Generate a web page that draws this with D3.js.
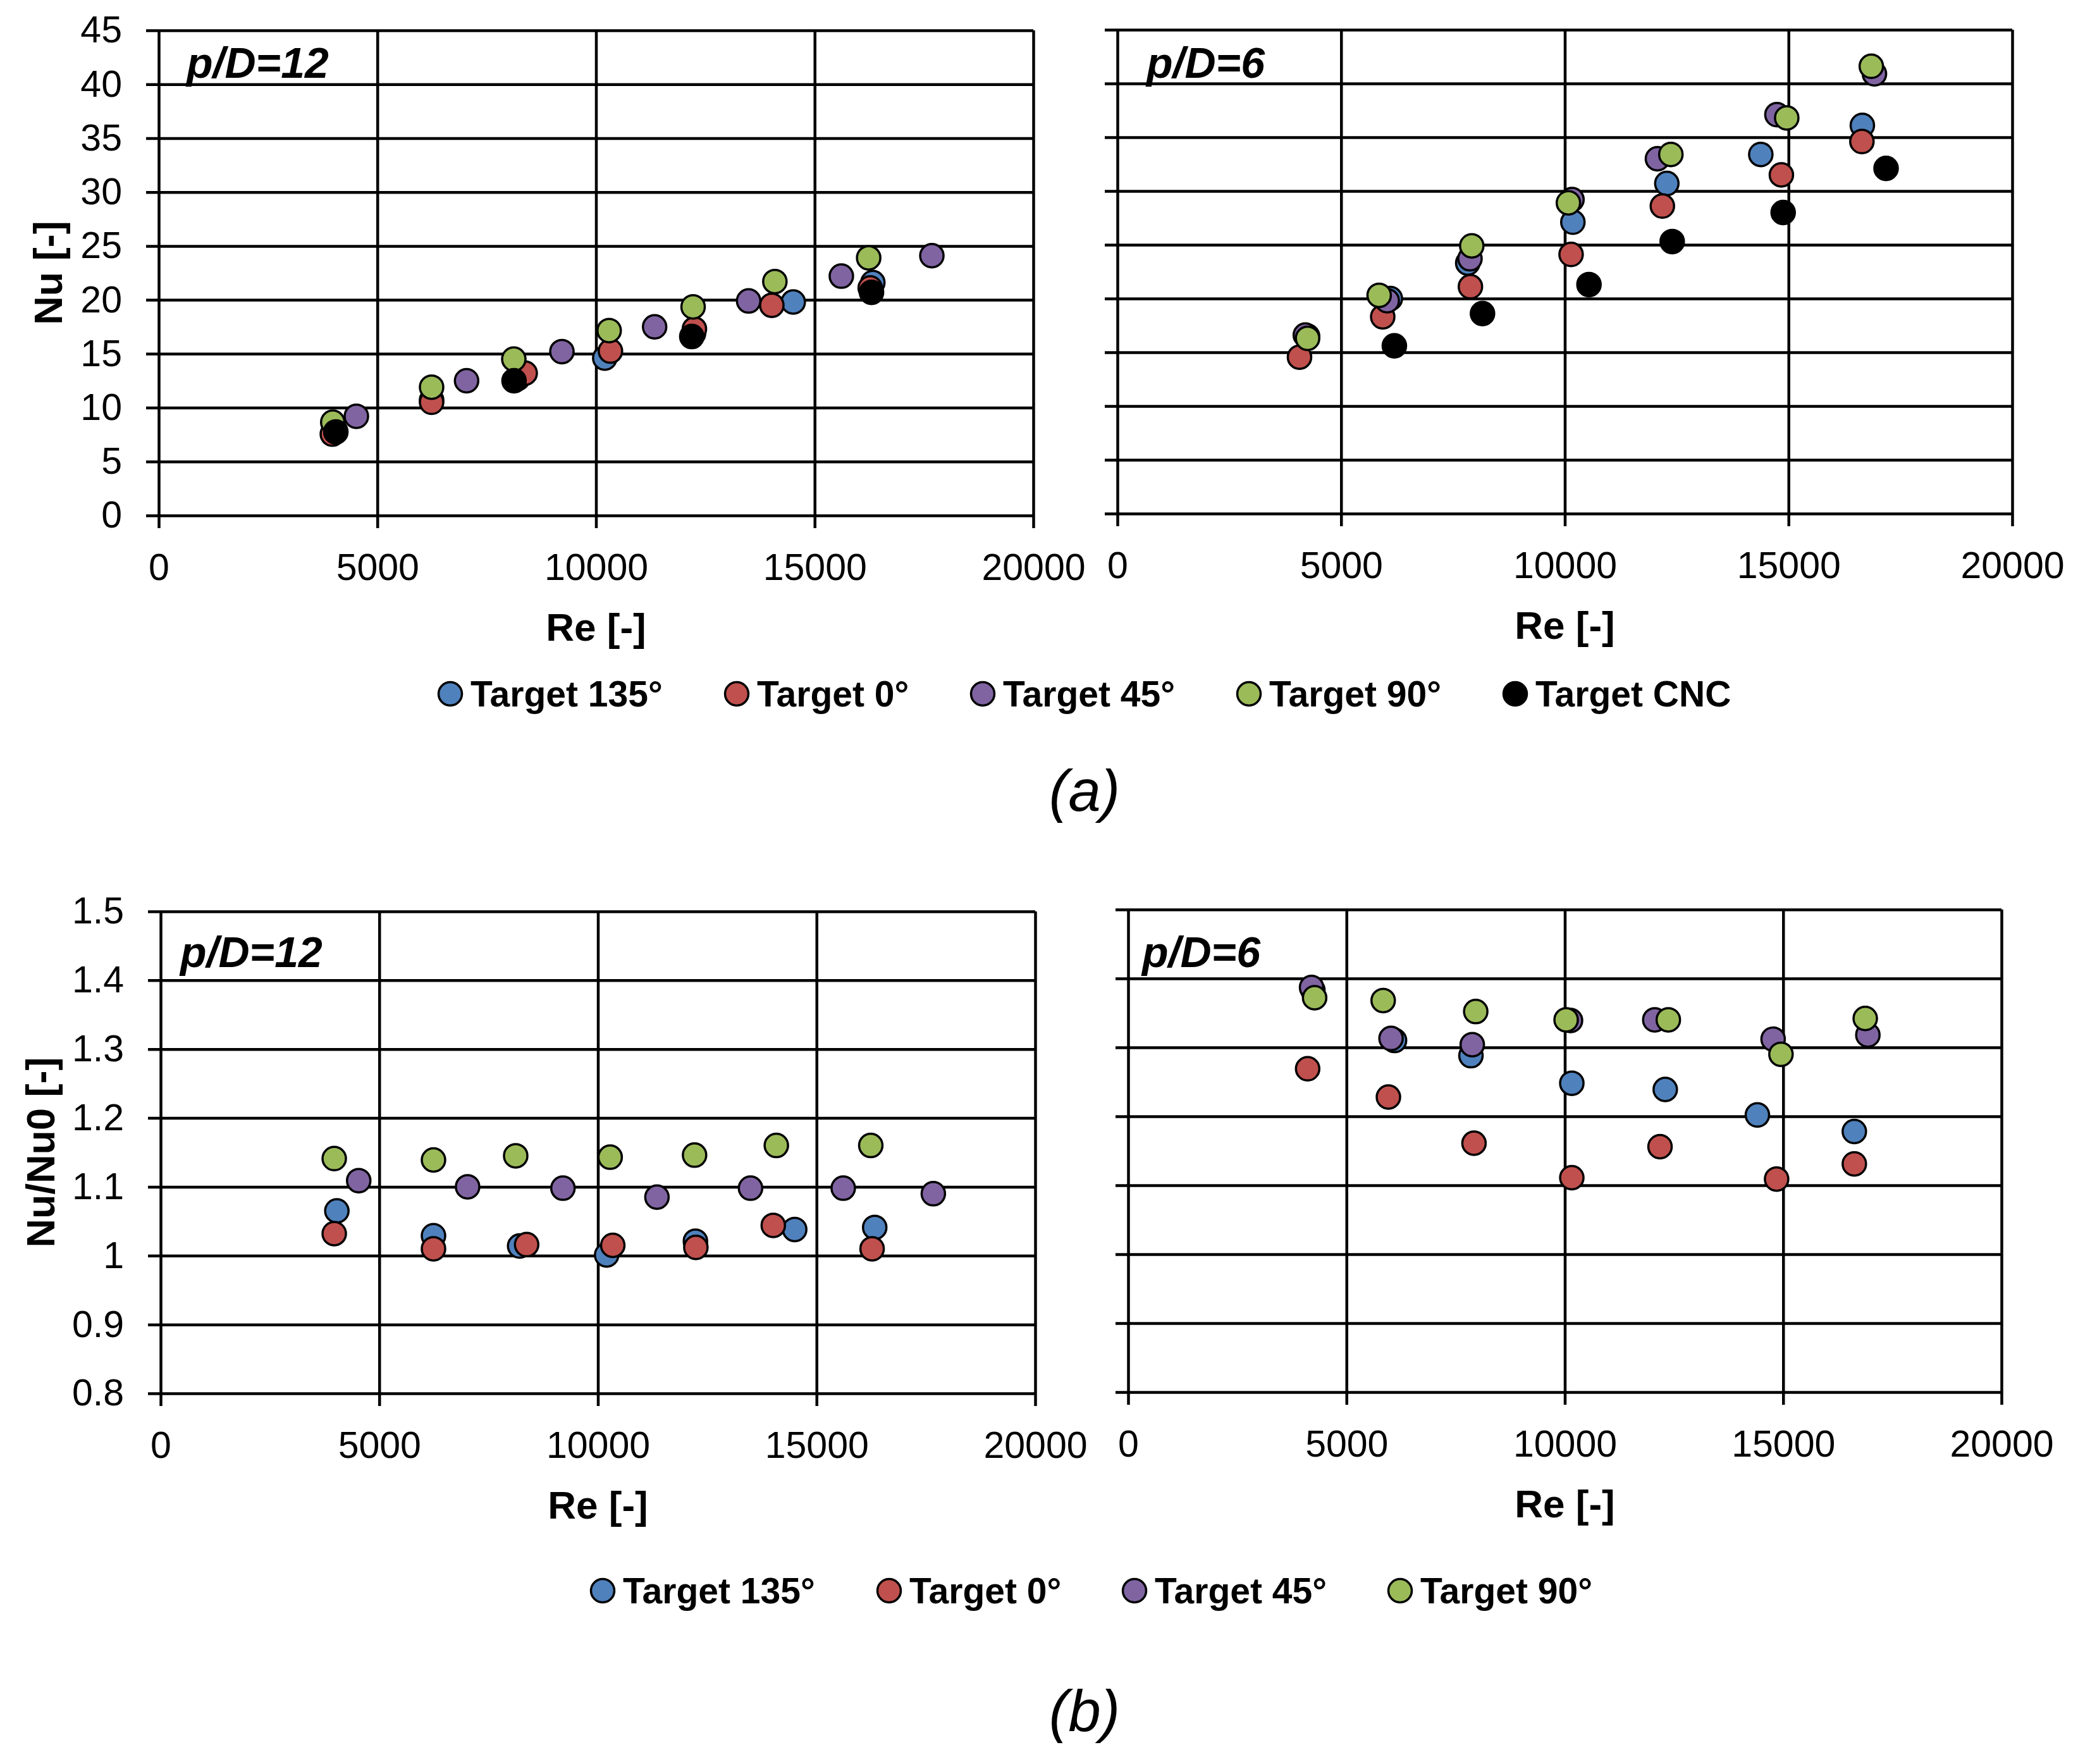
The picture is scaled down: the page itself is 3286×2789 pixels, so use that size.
<!DOCTYPE html>
<html>
<head>
<meta charset="utf-8">
<script src="https://cdn.jsdelivr.net/npm/d3@7"></script>
<style>
    body { margin: 0; background: #fff; }
    text { font-family: "Liberation Sans", Arial, sans-serif; fill: #000; }
    .grid line { stroke: #000; stroke-width: 4.5; }
    .grid path.domain { display: none; }
</style>
</head>
<body>
<svg id="chart"></svg>
<script>
// series (legend order = drawing order)
const seriesNames = ["Target 135°", "Target 0°", "Target 45°", "Target 90°", "Target CNC"];
const seriesColors = ["#4F81BD", "#C0504D", "#8064A2", "#9BBB59", "#000000"];

// tick values
const reTicks = [0, 5000, 10000, 15000, 20000];
const nuTicks = [0, 5, 10, 15, 20, 25, 30, 35, 40, 45];
const ratioTicks = [0.8, 0.9, 1.0, 1.1, 1.2, 1.3, 1.4, 1.5];

// (a) Nu, p/D=12   [Re, Nu]
const nu12_t135 = [[4030, 7.9], [6240, 10.7], [8210, 12.7], [10200, 14.6], [12230, 16.9], [14510, 19.8], [16330, 21.6]];
const nu12_t0   = [[3970, 7.55], [6240, 10.5], [8380, 13.2], [10330, 15.25], [12250, 17.3], [14020, 19.5], [16270, 21.1]];
const nu12_t45  = [[4520, 9.2], [7040, 12.5], [9220, 15.2], [11340, 17.5], [13490, 19.9], [15610, 22.2], [17680, 24.1]];
const nu12_t90  = [[3980, 8.65], [6240, 11.9], [8120, 14.5], [10300, 17.15], [12220, 19.35], [14090, 21.7], [16235, 23.9]];
const nu12_cnc  = [[4050, 7.75], [8125, 12.5], [12190, 16.6], [16300, 20.7]];

// (a) Nu, p/D=6
const nu6_t135 = [[4250, 16.5], [6100, 20.0], [7830, 23.3], [10180, 27.1], [12280, 30.7], [14380, 33.4], [16650, 36.1]];
const nu6_t0   = [[4070, 14.55], [5930, 18.3], [7890, 21.1], [10140, 24.1], [12180, 28.6], [14840, 31.5], [16640, 34.6]];
const nu6_t45  = [[4200, 16.6], [6030, 19.8], [7880, 23.7], [10160, 29.2], [12070, 33.0], [14740, 37.1], [16920, 40.9]];
const nu6_t90  = [[4250, 16.3], [5850, 20.3], [7920, 24.9], [10080, 28.9], [12370, 33.4], [14960, 36.8], [16850, 41.6]];
const nu6_cnc  = [[6190, 15.6], [8160, 18.6], [10540, 21.3], [12400, 25.3], [14880, 28.0], [17180, 32.1]];

// (b) Nu/Nu0, p/D=12
const ratio12_t135 = [[4030, 1.065], [6240, 1.029], [8210, 1.014], [10200, 1.001], [12230, 1.021], [14500, 1.038], [16330, 1.041]];
const ratio12_t0   = [[3970, 1.032], [6240, 1.010], [8370, 1.016], [10340, 1.015], [12240, 1.012], [14010, 1.044], [16270, 1.010]];
const ratio12_t45  = [[4530, 1.109], [7020, 1.100], [9200, 1.098], [11350, 1.085], [13490, 1.098], [15610, 1.098], [17670, 1.090]];
const ratio12_t90  = [[3970, 1.141], [6240, 1.139], [8120, 1.145], [10280, 1.143], [12210, 1.146], [14080, 1.160], [16240, 1.160]];

// (b) Nu/Nu0, p/D=6
const ratio6_t135 = [[4230, 1.383], [6100, 1.310], [7850, 1.288], [10160, 1.248], [12300, 1.239], [14410, 1.202], [16630, 1.178]];
const ratio6_t0   = [[4110, 1.269], [5960, 1.228], [7920, 1.161], [10160, 1.111], [12180, 1.156], [14850, 1.109], [16630, 1.131]];
const ratio6_t45  = [[4200, 1.387], [6020, 1.313], [7880, 1.304], [10130, 1.339], [12060, 1.340], [14770, 1.312], [16940, 1.318]];
const ratio6_t90  = [[4270, 1.372], [5840, 1.368], [7960, 1.352], [10030, 1.340], [12370, 1.340], [14950, 1.290], [16880, 1.342]];

const W = 3286, H = 2789;
const svg = d3.select("#chart").attr("width", W).attr("height", H);

const panels = [
    { left: 251, right: 1634, top: 48, bottom: 815, domain: [0, 45], yTicks: nuTicks, showY: true,
      label: "p/D=12", lx: 295, ly: 123, yTitle: "Nu [-]", ytx: 98,
      series: [nu12_t135, nu12_t0, nu12_t45, nu12_t90, nu12_cnc] },
    { left: 1767, right: 3182, top: 47, bottom: 812, domain: [0, 45], yTicks: nuTicks, showY: false,
      label: "p/D=6", lx: 1813, ly: 123,
      series: [nu6_t135, nu6_t0, nu6_t45, nu6_t90, nu6_cnc] },
    { left: 254, right: 1637, top: 1441, bottom: 2203, domain: [0.8, 1.5], yTicks: ratioTicks, showY: true,
      label: "p/D=12", lx: 285, ly: 1529, yTitle: "Nu/Nu0 [-]", ytx: 86,
      series: [ratio12_t135, ratio12_t0, ratio12_t45, ratio12_t90] },
    { left: 1784, right: 3165, top: 1438, bottom: 2201, domain: [0.8, 1.5], yTicks: ratioTicks, showY: false,
      label: "p/D=6", lx: 1806, ly: 1529,
      series: [ratio6_t135, ratio6_t0, ratio6_t45, ratio6_t90] }
];

panels.forEach(function (p) {
    const w = p.right - p.left, h = p.bottom - p.top;
    const x = d3.scaleLinear().domain([0, 20000]).range([0, w]);
    const y = d3.scaleLinear().domain(p.domain).range([h, 0]);
    const g = svg.append("g").attr("transform", "translate(" + p.left + "," + p.top + ")");

    // horizontal gridlines + y labels
    const yAxis = d3.axisLeft(y)
        .tickValues(p.yTicks)
        .tickSizeInner(-w)
        .tickSizeOuter(0)
        .tickPadding(58)
        .tickFormat(p.showY ? function (d) { return String(+d.toFixed(1)); } : "");
    const gy = g.append("g").attr("class", "grid").call(yAxis);
    gy.selectAll(".tick line").attr("x1", -20);
    gy.selectAll(".tick text").style("font-size", "59px");

    // vertical gridlines + x labels
    const xAxis = d3.axisBottom(x)
        .tickValues(reTicks)
        .tickSizeInner(-h)
        .tickSizeOuter(0)
        .tickPadding(60)
        .tickFormat(d3.format("d"));
    const gx = g.append("g").attr("class", "grid")
        .attr("transform", "translate(0," + h + ")")
        .call(xAxis);
    gx.selectAll(".tick line").attr("y1", 20);
    gx.selectAll(".tick text").style("font-size", "59px");

    // points
    p.series.forEach(function (pts, i) {
        g.append("g").selectAll("circle")
            .data(pts)
            .join("circle")
            .attr("cx", function (d) { return x(d[0]); })
            .attr("cy", function (d) { return y(d[1]); })
            .attr("r", 18.5)
            .attr("fill", seriesColors[i])
            .attr("stroke", "#000")
            .attr("stroke-width", 3.5);
    });

    // p/D label
    svg.append("text")
        .attr("x", p.lx).attr("y", p.ly)
        .style("font-size", "68px").style("font-weight", "bold").style("font-style", "italic")
        .text(p.label);

    // axis titles
    svg.append("text")
        .attr("x", p.left + w / 2).attr("y", p.bottom + 198)
        .attr("text-anchor", "middle")
        .style("font-size", "62px").style("font-weight", "bold")
        .text("Re [-]");

    if (p.yTitle) {
        svg.append("text")
            .attr("transform", "translate(" + p.ytx + "," + (p.top + h / 2) + ") rotate(-90)")
            .attr("text-anchor", "middle")
            .style("font-size", "63px").style("font-weight", "bold")
            .text(p.yTitle);
    }
});

// legends
function legend(xs, cy, n) {
    const lg = svg.append("g");
    const items = lg.selectAll("g").data(seriesNames.slice(0, n)).join("g")
        .attr("transform", function (d, i) { return "translate(" + xs[i] + "," + cy + ")"; });
    items.append("circle")
        .attr("r", 18.5)
        .attr("fill", function (d, i) { return seriesColors[i]; })
        .attr("stroke", "#000").attr("stroke-width", 3.5);
    items.append("text")
        .attr("x", 32).attr("y", 20)
        .style("font-size", "57px").style("font-weight", "bold")
        .text(function (d) { return d; });
}
legend([712, 1165, 1554, 1975, 2396], 1097, 5);
legend([953, 1406, 1794, 2214], 2515, 4);

// sub-figure captions
[["(a)", 1282], ["(b)", 2737]].forEach(function (c) {
    svg.append("text")
        .attr("x", 1715).attr("y", c[1])
        .attr("text-anchor", "middle")
        .style("font-size", "92px").style("font-style", "italic")
        .text(c[0]);
});
</script>
</body>
</html>
